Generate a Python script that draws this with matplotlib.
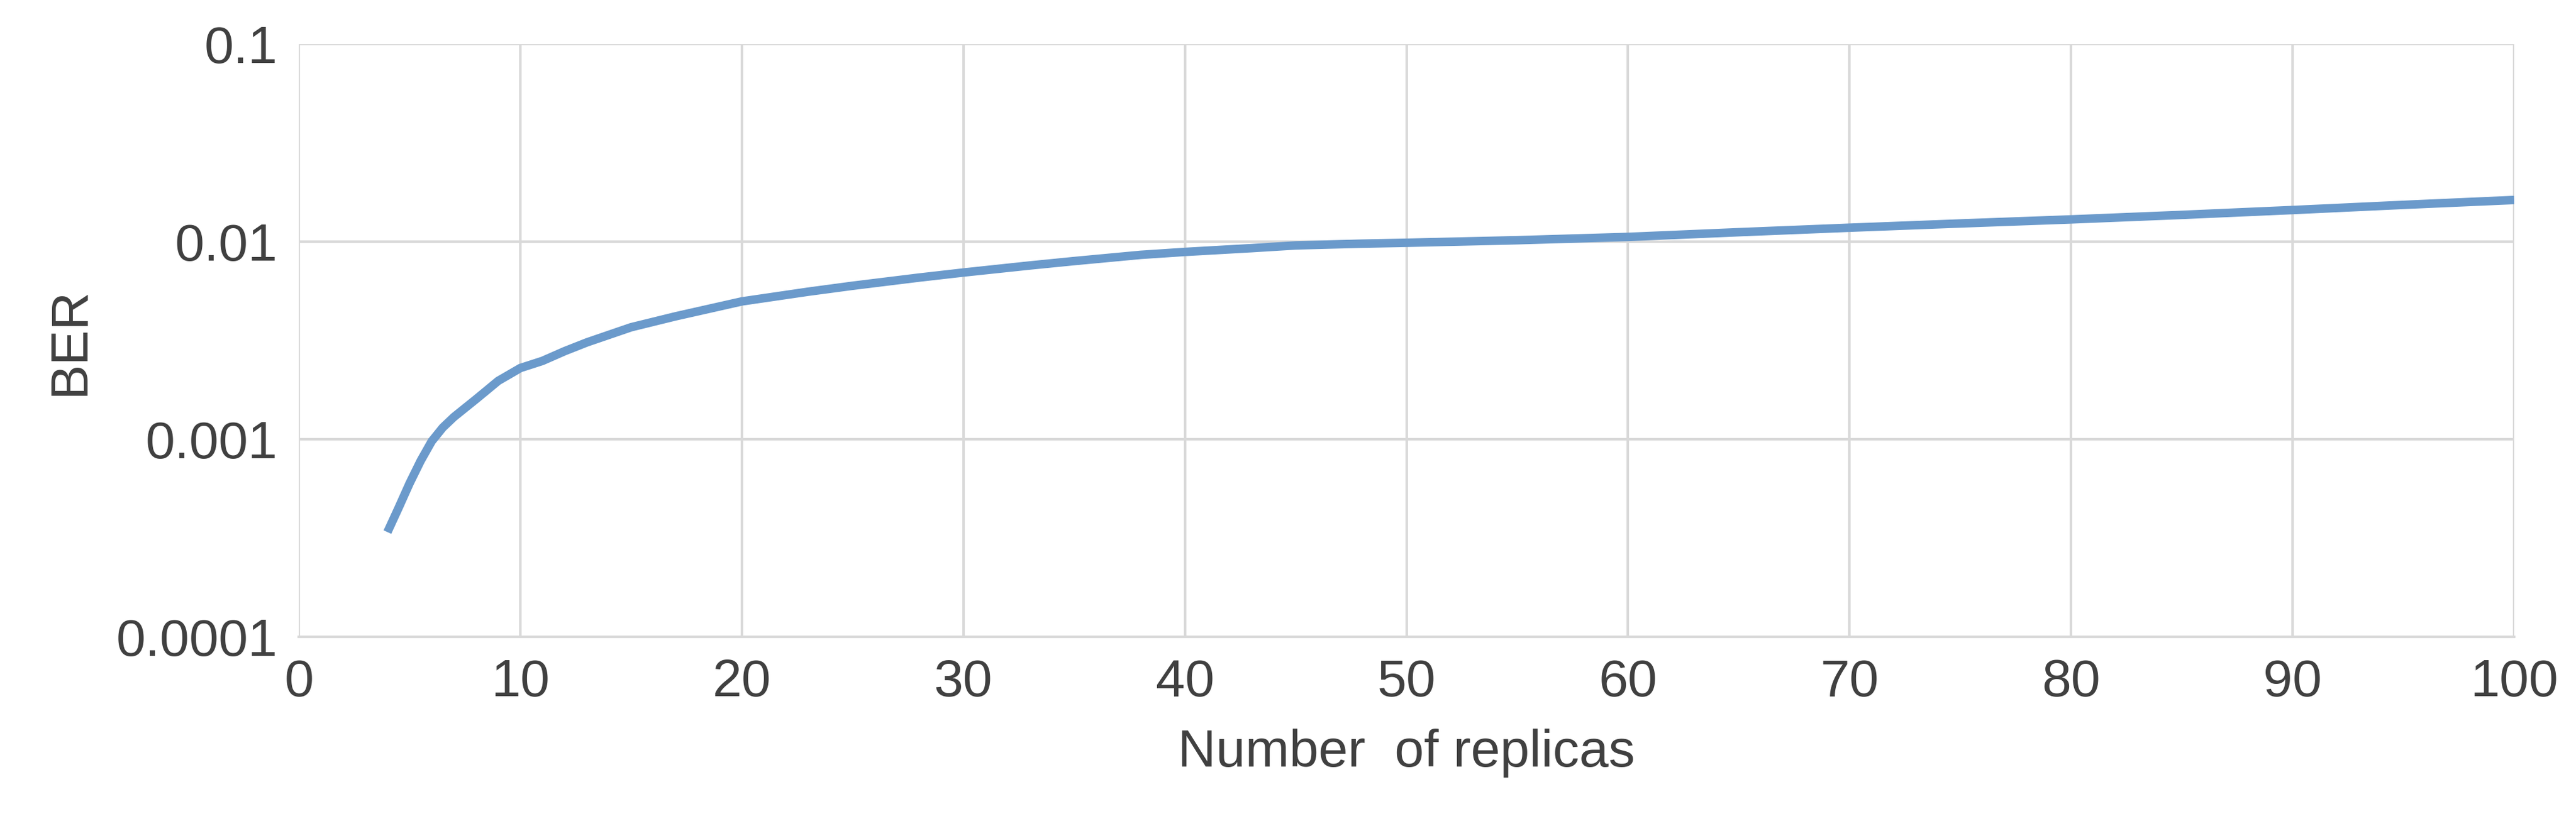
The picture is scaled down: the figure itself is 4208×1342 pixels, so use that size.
import matplotlib
matplotlib.use("Agg")
import matplotlib.pyplot as plt
from matplotlib.ticker import FixedLocator, FixedFormatter

replicas = [4, 4.5, 5, 5.5, 6, 6.5, 7, 8, 9, 10, 11, 12, 13, 15, 17, 20, 23, 25, 28, 30, 33, 35, 38, 40,
            43, 45, 48, 50, 55, 60, 65, 70, 75, 80, 85, 90, 95, 100]
ber = [0.00034, 0.00045, 0.0006, 0.00078, 0.00098, 0.00115, 0.0013, 0.0016, 0.00198, 0.0023, 0.0025,
       0.0028, 0.0031, 0.0037, 0.0042, 0.005, 0.0056, 0.006, 0.0066, 0.007, 0.0076, 0.008, 0.0086,
       0.0089, 0.0093, 0.0096, 0.0098, 0.0099, 0.0102, 0.0106, 0.0112, 0.0118, 0.0124, 0.013,
       0.0137, 0.0145, 0.0154, 0.0163]
yticks = [0.0001, 0.001, 0.01, 0.1]
ytick_labels = ["0.0001", "0.001", "0.01", "0.1"]

plt.rcParams['font.family'] = ['Liberation Sans', 'DejaVu Sans']
fig = plt.figure(figsize=(42.08, 13.42), dpi=100)
ax = fig.add_axes([0.116, 0.224, 0.86, 0.722])
ax.plot(replicas, ber, color='#6b9acb', lw=10, solid_capstyle='butt', solid_joinstyle='round')
ax.set_yscale('log')
ax.set_xlim(0, 100)
ax.set_ylim(0.0001, 0.1)
ax.set_xticks(range(0, 101, 10))
ax.yaxis.set_major_locator(FixedLocator(yticks))
ax.yaxis.set_major_formatter(FixedFormatter(ytick_labels))
ax.yaxis.set_minor_locator(FixedLocator([]))
ax.grid(True, color='#d9d9d9', lw=3)
ax.set_axisbelow(True)
for s in ['top', 'right', 'left']:
    ax.spines[s].set_visible(False)
ax.spines['bottom'].set_color('#d9d9d9')
ax.spines['bottom'].set_linewidth(3)
ax.tick_params(length=0, labelsize=62, colors='#404040', pad=25)
ax.set_xlabel('Number  of replicas', fontsize=62, color='#404040', labelpad=25)
ax.set_ylabel('BER', fontsize=62, color='#404040', labelpad=25)
fig.savefig('out.png', dpi=100, facecolor='white')
